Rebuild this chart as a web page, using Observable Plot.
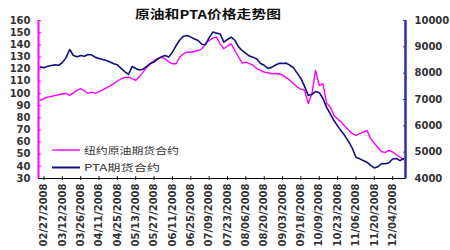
<!DOCTYPE html>
<html><head><meta charset="utf-8">
<script src="https://cdn.jsdelivr.net/npm/d3@7"></script>
<script src="https://cdn.jsdelivr.net/npm/@observablehq/plot@0.6"></script>
<style>body{margin:0;background:#fff}#chart{width:450px;height:250px}</style>
</head><body><div id="chart"></div>
<script>
const title = "原油和PTA价格走势图";
const seriesNames = ["纽约原油期货合约", "PTA期货合约"];
const tickDates = ["02/27/2008","03/12/2008","03/26/2008","04/11/2008","04/25/2008","05/13/2008","05/27/2008","06/11/2008","06/25/2008","07/09/2008","07/23/2008","08/06/2008","08/20/2008","09/03/2008","09/18/2008","10/09/2008","10/23/2008","11/06/2008","11/20/2008","12/04/2008"];
const tickDays = d3.range(0, 191, 10);
const days = d3.range(-2, 197, 2);
const crude = [94.3,96,97,97.5,98.4,98.9,99.5,100,98.4,100.5,
102.5,103.9,102,100,101.1,100,101.5,103,104.5,106.2,
108,110,112.1,113,113.4,112.1,110.7,114,117.5,121.6,
124.5,127.1,128.5,129.8,128.5,126,124.4,124.4,130,132.6,
133.9,133.9,134.5,135.3,136.7,140.8,143.5,145.5,146.3,140.8,
136.7,139,140.8,135.3,130,125,125.7,124.5,123,120.5,
118.9,117.5,117,116.2,116.5,116.2,115,113,110.7,108,
105.2,103.5,102.5,91.6,99.8,118.9,106.5,108,92,88.8,
82,79,76.4,73,70,66.9,65.5,67,68.2,69.6,
62.8,59,55.5,52,51.5,53.2,51.8,49.5,47.7,45.5];
const pta = [8230,8210,8260,8290,8320,8300,8400,8590,8900,8670,
8620,8670,8640,8710,8690,8600,8560,8520,8480,8420,
8360,8320,8180,8060,7950,8250,8180,8120,8150,8260,
8370,8420,8550,8620,8670,8610,8800,9050,9260,9400,
9430,9370,9300,9240,9100,9080,9350,9560,9520,9490,
9180,9280,9370,9250,9000,8860,8750,8650,8600,8540,
8370,8300,8180,8220,8300,8370,8370,8380,8300,8200,
8000,7800,7500,7150,7200,7300,7260,7040,6700,6450,
6200,6000,5800,5620,5400,5150,4810,4750,4680,4620,
4500,4400,4450,4570,4560,4600,4740,4760,4680,4760];
const leftTicks = [30,40,50,60,70,80,90,100,110,120,130,140,150,160];
const rightTicks = [4000,5000,6000,7000,8000,9000,10000];

const xDomain = [-3, 197];
const leftDomain = [30, 160];
const rightDomain = [4000, 10000];
const toLeft = v => leftDomain[0] + (v - rightDomain[0]) / (rightDomain[1] - rightDomain[0]) * (leftDomain[1] - leftDomain[0]);

const data = days.map((d, i) => ({day: d, crude: crude[i], pta: toLeft(pta[i])}));
const pink = "#ff00ff", navy = "#10107a", axisNavy = "#3030a0";

const plot = Plot.plot({
  width: 450, height: 250,
  marginLeft: 38, marginRight: 45, marginTop: 20, marginBottom: 72,
  x: {type: "linear", domain: xDomain, axis: null},
  y: {type: "linear", domain: leftDomain, axis: null},
  style: {fontFamily: "DejaVu Sans", fontSize: "10px", background: "white", color: "#222"},
  marks: [
    Plot.axisY(leftTicks, {anchor: "left", label: null, tickSize: -3, tickPadding: 11, stroke: pink, fill: "#333", fontSize: 10, fontWeight: "bold"}),
    Plot.axisY(rightTicks.map(toLeft), {anchor: "right", label: null, tickSize: -3, tickPadding: 12, stroke: axisNavy, fill: "#333", fontSize: 10, fontWeight: "bold", tickFormat: (d, i) => String(rightTicks[i])}),
    Plot.axisX(tickDays, {anchor: "bottom", label: null, tickRotate: -90, tickSize: 2, tickPadding: 3, fill: "#333", fontSize: 10, fontWeight: "bold", tickFormat: (d, i) => tickDates[i]}),
    Plot.axisX(tickDays, {anchor: "bottom", label: null, tickSize: -2, tickFormat: () => ""}),
    Plot.line(data, {x: "day", y: "crude", stroke: pink, strokeWidth: 1.4}),
    Plot.line(data, {x: "day", y: "pta", stroke: navy, strokeWidth: 1.6}),
    Plot.ruleY([leftDomain[0]], {stroke: "#000", strokeWidth: 1.2}),
    Plot.ruleX([xDomain[0]], {stroke: pink, strokeWidth: 2}),
    Plot.ruleX([xDomain[1]], {stroke: axisNavy, strokeWidth: 2.5})
  ]
});
document.getElementById("chart").appendChild(plot);

const svg = d3.select(plot);
svg.append("text")
  .attr("x", 135).attr("y", 19).attr("text-anchor", "start")
  .attr("font-family", "Noto Sans CJK SC").attr("font-size", 12).attr("font-weight", "bold")
  .attr("fill", "#111")
  .attr("textLength", 146).attr("lengthAdjust", "spacingAndGlyphs")
  .text(title);

const legend = svg.append("g").attr("font-family", "Noto Sans CJK SC").attr("font-size", 9).attr("fill", "#333").attr("text-anchor", "start");
const legendColors = [pink, navy];
const legendLens = [95, 76];
seriesNames.forEach((name, i) => {
  const y = 150 + i * 17.5;
  legend.append("line").attr("x1", 52).attr("x2", 80).attr("y1", y).attr("y2", y)
    .attr("stroke", legendColors[i]).attr("stroke-width", i ? 2 : 1.4);
  legend.append("text").attr("x", 84).attr("y", y + 3.5)
    .attr("textLength", legendLens[i]).attr("lengthAdjust", "spacingAndGlyphs")
    .text(name);
});
</script></body></html>
